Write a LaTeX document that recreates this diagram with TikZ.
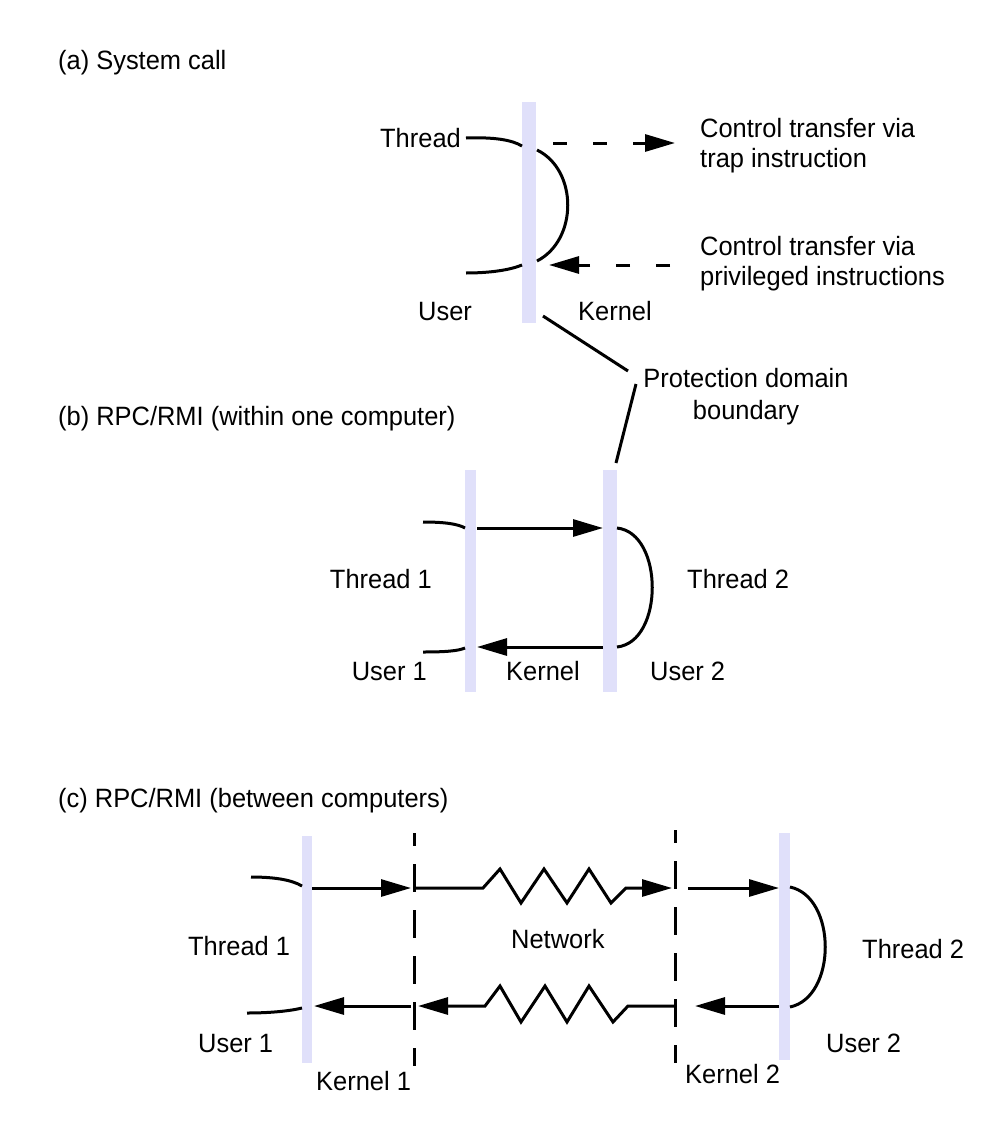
\documentclass[tikz,border=0pt]{standalone}
\usepackage{fontspec}
\setmainfont[FakeStretch=0.96]{Liberation Sans}
\usetikzlibrary{arrows.meta}
\definecolor{barcol}{RGB}{224,224,250}
\begin{document}
\begin{tikzpicture}[x=1pt,y=-1pt,
  lbl/.style={inner sep=0pt, font=\fontsize{26.5}{30}\selectfont},
  wire/.style={line width=3pt},
  arr/.style={wire, -{Triangle[length=30pt,width=17pt]}},
  darr/.style={arr, dash pattern=on 14pt off 26pt},
  bar/.style={fill=barcol, draw=none, inner sep=0pt, minimum width=12pt},
  kline/.style={line width=3pt, dash pattern=on 28pt off 18pt, dash phase=15pt}]
\useasboundingbox (0,0) rectangle (999,1140);

% ---------- (a) System call ----------
\node[lbl, anchor=base west] (ta) at (58,70) {(a) System call};
\node[bar, minimum width=14pt, minimum height=221pt] (barA) at (529,212.5) {};
\node[lbl, anchor=base west] (thA) at (380,147) {Thread};
\node[lbl, anchor=base west] (usA) at (418,320) {User};
\node[lbl, anchor=base west] (keA) at (578,320) {Kernel};
\node[lbl, anchor=base west, align=left] (trap) at (700,167.5) {Control transfer via\\trap instruction};
\node[lbl, anchor=base west, align=left] (priv) at (700,285.5) {Control transfer via\\privileged instructions};
\node[lbl, anchor=base, align=center, font=\fontsize{26.5}{32}\selectfont] (prot) at (746,419) {Protection domain\\boundary};

\coordinate (a1) at (466,138);
\coordinate (a2) at (522,146);
\coordinate (a3) at (537,150);
\coordinate (a4) at (537,261);
\coordinate (a5) at (522,265);
\coordinate (a6) at (466,273);
\draw[wire] (a1) .. controls (495,137) and (512,140) .. (a2);
\draw[wire] (a3) .. controls (578,170) and (578,240) .. (a4);
\draw[wire] (a5) .. controls (510,270) and (490,273) .. (a6);
\coordinate (d1s) at (553,143);
\coordinate (d1e) at (675,143);
\coordinate (d2s) at (670,265);
\coordinate (d2e) at (549,265);
\draw[darr] (d1s) -- (d1e);
\draw[darr] (d2s) -- (d2e);
\coordinate (p1) at (543,316);
\coordinate (p2) at (628,371);
\coordinate (p3) at (636,384);
\coordinate (p4) at (616,463);
\draw[wire] (p1) -- (p2);
\draw[wire] (p3) -- (p4);

% ---------- (b) RPC/RMI within one computer ----------
\node[lbl, anchor=base west] (tb) at (58,425) {(b) RPC/RMI (within one computer)};
\node[bar, minimum width=11pt, minimum height=222pt] (barB1) at (470.5,581) {};
\node[bar, minimum width=14pt, minimum height=222pt] (barB2) at (610,581) {};
\node[lbl, anchor=base east] (th1B) at (432,588) {Thread 1};
\node[lbl, anchor=base east] (us1B) at (427,680) {User 1};
\node[lbl, anchor=base west] (keB) at (506,680) {Kernel};
\node[lbl, anchor=base west] (th2B) at (687,588) {Thread 2};
\node[lbl, anchor=base west] (us2B) at (650,680) {User 2};

\draw[wire] (423,522) .. controls (445,522) and (458,524) .. (465,528);
\draw[arr] (477,528) -- (603,528);
\draw[wire] (617,528) .. controls (664,533) and (664,642) .. (617,647);
\draw[arr] (603,647) -- (477,647);
\draw[wire] (465,648) .. controls (458,651) and (445,652) .. (423,652);

% ---------- (c) RPC/RMI between computers ----------
\node[lbl, anchor=base west] (tc) at (58,807) {(c) RPC/RMI (between computers)};
\node[bar, minimum width=10pt, minimum height=227pt] (barC1) at (307,949.5) {};
\node[bar, minimum width=11pt, minimum height=227pt] (barC2) at (784.5,946.5) {};
\draw[kline] (414.5,833) -- (414.5,1066);
\draw[kline] (675,830) -- (675,1063);
\node[lbl, anchor=base west] (th1C) at (188,955) {Thread 1};
\node[lbl, anchor=base west] (net) at (511,948) {Network};
\node[lbl, anchor=base west] (th2C) at (862,958) {Thread 2};
\node[lbl, anchor=base west] (us1C) at (198,1052) {User 1};
\node[lbl, anchor=base west] (us2C) at (826,1052) {User 2};
\node[lbl, anchor=base west] (ke1C) at (316,1090) {Kernel 1};
\node[lbl, anchor=base west] (ke2C) at (685,1083) {Kernel 2};

\draw[wire] (251,877) .. controls (275,877) and (292,880) .. (302,886);
\draw[arr] (312,888) -- (411,888);
\draw[arr] (415,888) -- (483,888) -- (500,869) -- (521,903) -- (544,869) -- (567,903) -- (589,869) -- (611,903) -- (626,888) -- (672,888);
\draw[arr] (688,888) -- (779,888);
\draw[wire] (790,887) .. controls (837,897) and (837,997) .. (790,1007);
\draw[arr] (779,1006) -- (695,1006);
\draw[arr] (675,1006) -- (628,1006) -- (613,1022) -- (589,986) -- (567,1022) -- (545,986) -- (521,1022) -- (500,986) -- (485,1006) -- (418,1006);
\draw[arr] (411,1006) -- (314,1006);
\draw[wire] (302,1008) .. controls (290,1011) and (270,1013) .. (247,1013);
\end{tikzpicture}
\end{document}
